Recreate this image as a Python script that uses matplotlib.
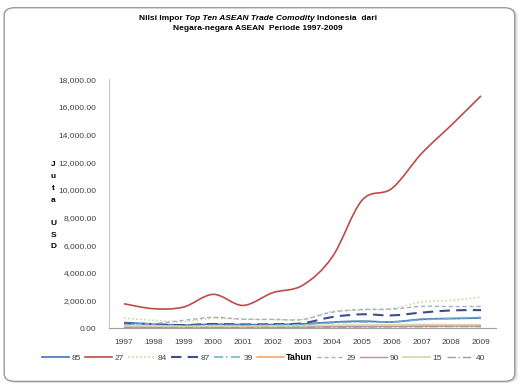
import matplotlib
matplotlib.use("Agg")
import matplotlib.pyplot as plt
from matplotlib.path import Path
from matplotlib.patches import PathPatch, FancyBboxPatch
from matplotlib.lines import Line2D
from matplotlib.ticker import FuncFormatter
import numpy as np

plt.rcParams['font.family'] = ['Liberation Sans', 'DejaVu Sans']

years = ['1997', '1998', '1999', '2000', '2001', '2002', '2003',
         '2004', '2005', '2006', '2007', '2008', '2009']

# nilai impor (juta USD)
hs85 = [400, 300, 220, 280, 250, 260, 300, 430, 500, 440, 640, 690, 730]
hs27 = [1760, 1400, 1520, 2440, 1640, 2560, 3090, 5140, 9240, 10090, 12620, 14670, 16790]
hs84 = [720, 560, 470, 700, 650, 620, 640, 1200, 1300, 1400, 1880, 2000, 2240]
hs87 = [330, 260, 220, 300, 260, 280, 350, 800, 1000, 920, 1120, 1280, 1300]
hs39 = [250, 200, 160, 220, 200, 220, 260, 380, 440, 450, 600, 700, 780]
hs_x = [60, 50, 40, 50, 50, 60, 70, 90, 100, 110, 120, 130, 120]
hs29 = [260, 330, 560, 780, 640, 630, 620, 1150, 1350, 1370, 1570, 1560, 1570]
hs90 = [90, 80, 70, 90, 80, 90, 100, 120, 130, 140, 160, 170, 180]
hs15 = [150, 160, 110, 140, 120, 140, 160, 200, 220, 230, 260, 240, 250]
hs40 = [40, 30, 30, 40, 40, 50, 60, 70, 80, 90, 100, 110, 110]

# the orange entry's own label is covered by the axis title "Tahun" in the original
labels = ['85', '27', '84', '87', '39', 'Tahun', '29', '90', '15', '40']
series = [hs85, hs27, hs84, hs87, hs39, hs_x, hs29, hs90, hs15, hs40]
colors = ['#4f7fbc', '#be4b48', '#c8d48a', '#3c4f8c', '#6aaed0',
          '#f2a25a', '#9fb0d0', '#c08aa6', '#e0d6a8', '#9c9c9c']
styles = ['-', '-', ':', (0, (5, 3)), (0, (6, 2, 1, 2)),
          '-', (0, (3, 2)), '-', '-', (0, (6, 2, 1, 2))]
widths = [1.3, 1.2, 1.1, 1.5, 1.1, 1.1, 1.0, 1.0, 1.3, 1.0]


def smooth_path(y):
    # excel-like smoothed line: bezier segments through the data points
    x = np.arange(len(y), dtype=float)
    y = np.asarray(y, dtype=float)
    verts = [(x[0], y[0])]
    codes = [Path.MOVETO]
    n = len(x)
    t = 1.0 / 6.0
    for i in range(n - 1):
        p0 = (x[max(i - 1, 0)], y[max(i - 1, 0)])
        p1 = (x[i], y[i])
        p2 = (x[i + 1], y[i + 1])
        p3 = (x[min(i + 2, n - 1)], y[min(i + 2, n - 1)])
        c1 = (p1[0] + (p2[0] - p0[0]) * t, p1[1] + (p2[1] - p0[1]) * t)
        c2 = (p2[0] - (p3[0] - p1[0]) * t, p2[1] - (p3[1] - p1[1]) * t)
        verts += [c1, c2, p2]
        codes += [Path.CURVE4] * 3
    return Path(verts, codes)


fig = plt.figure(figsize=(5.22, 3.86), dpi=100)

# rounded frame with a faint shadow on the right
shadow = FancyBboxPatch((0.012, 0.010), 0.978, 0.968, boxstyle="round,pad=0,rounding_size=0.02",
                        transform=fig.transFigure, facecolor='#dedede', edgecolor='#dedede',
                        linewidth=1.0, zorder=-6)
frame = FancyBboxPatch((0.008, 0.012), 0.978, 0.968, boxstyle="round,pad=0,rounding_size=0.02",
                       transform=fig.transFigure, facecolor='white', edgecolor='#9a9a9a',
                       linewidth=1.0, zorder=-5)
fig.patches.extend([shadow, frame])

ax = fig.add_axes([0.209, 0.150, 0.741, 0.645])
ax.patch.set_alpha(0)

handles = []
order = [9, 7, 5, 8, 4, 0, 3, 6, 2, 1]
for i in order:
    patch = PathPatch(smooth_path(series[i]), fill=False, edgecolor=colors[i],
                      linestyle=styles[i], linewidth=widths[i], zorder=3 + i)
    ax.add_patch(patch)
for i in range(len(series)):
    handles.append(Line2D([], [], color=colors[i], linestyle=styles[i],
                          linewidth=widths[i], label=labels[i]))

ax.set_xlim(-0.5, len(years) - 0.5)
ax.set_ylim(0, 18000)
ax.set_xticks(range(len(years)))
ax.set_xticklabels(years)
ax.set_yticks(np.arange(0, 18001, 2000))
ax.yaxis.set_major_formatter(FuncFormatter(lambda v, p: f'{v:,.2f}'))
ax.tick_params(axis='both', length=0, labelsize=6, labelcolor='#404040')
ax.tick_params(axis='y', pad=9)
ax.tick_params(axis='x', pad=8)
for s in ['top', 'right']:
    ax.spines[s].set_visible(False)
ax.spines['left'].set_color('#c8c8c8')
ax.spines['left'].set_linewidth(0.8)
ax.spines['bottom'].set_color('#a0a0a0')
ax.spines['bottom'].set_linewidth(0.8)

leg = fig.legend(handles=handles, loc='center', bbox_to_anchor=(0.505, 0.073), ncol=10,
                 frameon=False, fontsize=6, handlelength=3.2, handletextpad=0.3,
                 columnspacing=0.55)
for k, t in enumerate(leg.get_texts()):
    if labels[k] == 'Tahun':
        t.set_color('black')
        t.set_fontweight('bold')
        t.set_fontsize(6.5)
    else:
        t.set_color('#404040')

ylab = 'Juta USD'
yy = 1 - 165 / 386
for ch in ylab:
    if ch != ' ':
        fig.text(0.102, yy, ch, fontsize=6, fontweight='bold', ha='center', va='center')
    yy -= 11.7 / 386

# title with italic parts
fig.canvas.draw()
renderer = fig.canvas.get_renderer()
parts = [('Nilsi Impor ', 'normal'), ('Top Ten ASEAN Trade ', 'italic'),
         ('Comodity ', 'italic'), ('Indonesia  dari', 'normal')]
texts = []
for s, st in parts:
    texts.append(fig.text(0, 1 - 18 / 386, s, fontsize=6, fontweight='bold', style=st,
                          ha='left', va='center'))
widths_px = [t.get_window_extent(renderer).width for t in texts]
x0 = 258 - sum(widths_px) / 2
for t, w in zip(texts, widths_px):
    t.set_x(x0 / 522)
    x0 += w
fig.text(258 / 522, 1 - 28 / 386, 'Negara-negara ASEAN  Periode 1997-2009', fontsize=6,
         fontweight='bold', ha='center', va='center')

fig.savefig('out.png', dpi=100)
